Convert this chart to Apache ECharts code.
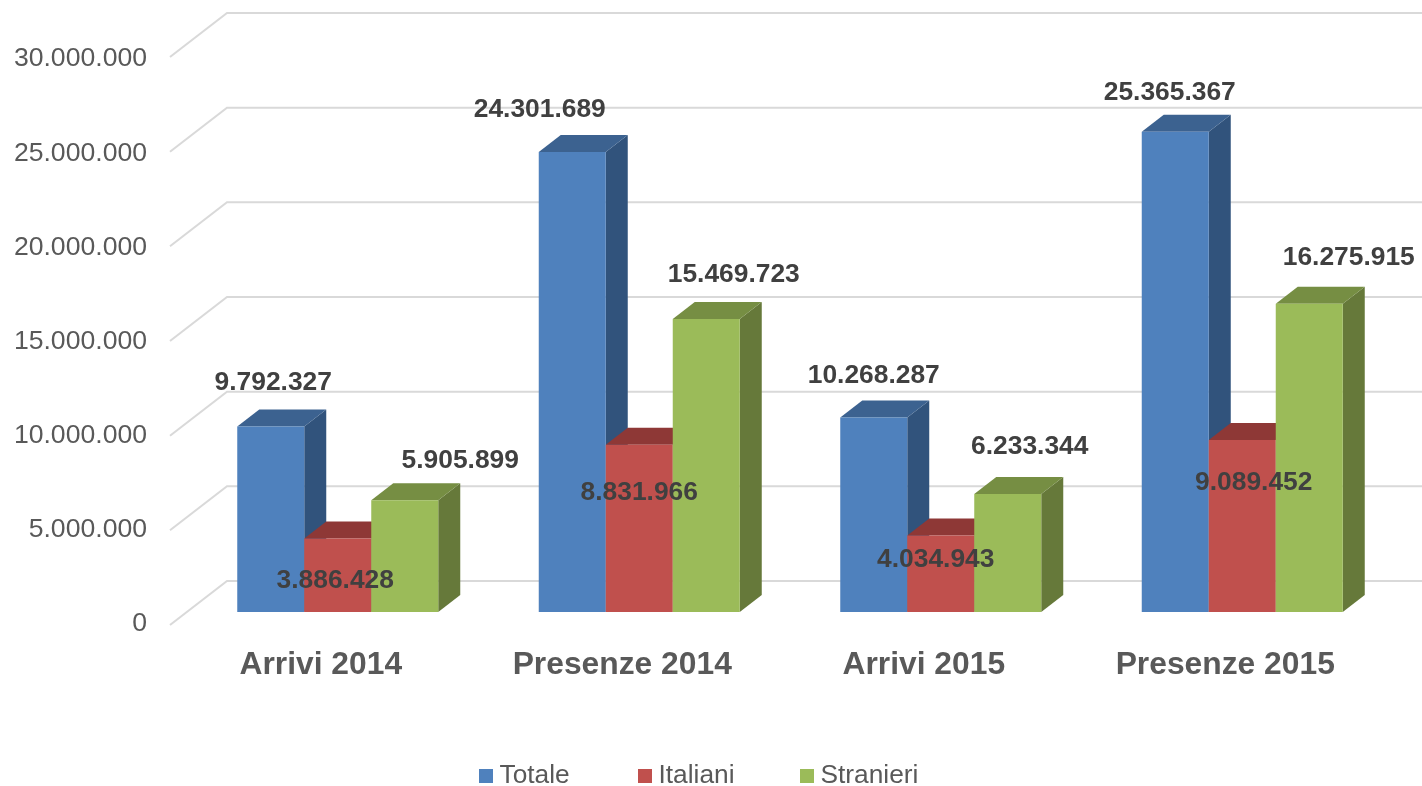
<!DOCTYPE html>
<html>
<head>
<meta charset="utf-8">
<style>html,body{margin:0;padding:0;background:#fff}#c{width:1422px;height:786px}</style>
<script src="https://cdn.jsdelivr.net/npm/echarts@6/dist/echarts.min.js"></script>
</head>
<body>
<div id="c"></div>
<script>
const categories = ['Arrivi 2014', 'Presenze 2014', 'Arrivi 2015', 'Presenze 2015'];
const totale = [9792327, 24301689, 10268287, 25365367];
const italiani = [3886428, 8831966, 4034943, 9089452];
const stranieri = [5905899, 15469723, 6233344, 16275915];
const yTicks = [0, 5000000, 10000000, 15000000, 20000000, 25000000, 30000000];

// Layout: hand-placed label offsets from the top-centre of each bar's front face
const labelShiftTotale = [[2.5, -44], [-32.5, -42], [0, -42], [-5.5, -39]];
const labelShiftItaliani = [[-2.5, 42], [0, 48], [-5, 24], [11.5, 43]];
const labelShiftStranieri = [[55.5, -39], [27.5, -44], [22, -47], [39.5, -46]];

const FONT = '"Liberation Sans", Arial, sans-serif';
const fmt = v => String(v).replace(/\B(?=(\d{3})+$)/g, '.');
const BAR_W = 67, DEPTH_X = 22, DEPTH_Y = 17, FRONT_DX = 17, FRONT_DY = -13, BACK_DX = 57, BACK_DY = -44;

const palettes = [
  { front: '#4F81BD', top: '#3C6290', side: '#31537C' },
  { front: '#C0504D', top: '#8E3836', side: '#8E3836' },
  { front: '#9BBB59', top: '#768E43', side: '#66793A' }
];

function barSeries(name, values, slot) {
  const pal = palettes[slot];
  return {
    name, type: 'custom', coordinateSystem: 'cartesian2d', xAxisIndex: 0, yAxisIndex: 0, z: 3,
    clip: false, encode: { x: 0, y: 1 }, itemStyle: { color: pal.front }, silent: true,
    data: values.map((v, i) => [i, v]),
    renderItem(params, api) {
      const top = api.coord([api.value(0), api.value(1)]);
      const base = api.coord([api.value(0), 0]);
      const x0 = top[0] + FRONT_DX + (slot - 1.5) * BAR_W, x1 = x0 + BAR_W;
      const yt = top[1] + FRONT_DY, yb = base[1] + FRONT_DY;
      return { type: 'group', children: [
        { type: 'polygon', shape: { points: [[x1, yt], [x1 + DEPTH_X, yt - DEPTH_Y], [x1 + DEPTH_X, yb - DEPTH_Y], [x1, yb]] }, style: { fill: pal.side } },
        { type: 'polygon', shape: { points: [[x0, yt], [x0 + DEPTH_X, yt - DEPTH_Y], [x1 + DEPTH_X, yt - DEPTH_Y], [x1, yt]] }, style: { fill: pal.top } },
        { type: 'rect', shape: { x: x0, y: yt, width: BAR_W, height: yb - yt }, style: { fill: pal.front } }
      ] };
    }
  };
}

function labelSeries(values, shifts, slot) {
  return {
    type: 'custom', coordinateSystem: 'cartesian2d', xAxisIndex: 0, yAxisIndex: 0, z: 6,
    clip: false, encode: { x: 0, y: 1 }, silent: true,
    data: values.map((v, i) => [i, v]),
    renderItem(params, api) {
      const i = api.value(0), v = api.value(1);
      const top = api.coord([i, v]);
      const s = shifts[i];
      return { type: 'text', style: {
        text: fmt(v), x: top[0] + FRONT_DX + (slot - 1) * BAR_W + s[0], y: top[1] + FRONT_DY + s[1],
        align: 'center', verticalAlign: 'middle', fill: '#404040', font: 'bold 26.4px ' + FONT
      } };
    }
  };
}

const wallSeries = {
  type: 'custom', coordinateSystem: 'cartesian2d', xAxisIndex: 0, yAxisIndex: 0, z: 1,
  clip: false, encode: { x: 0, y: 1 }, silent: true,
  data: yTicks.map(v => [0, v]),
  renderItem(params, api) {
    const p = api.coord([0, api.value(1)]);
    const x = params.coordSys.x;
    return { type: 'polyline', shape: { points: [[x, p[1]], [x + BACK_DX, p[1] + BACK_DY], [api.getWidth(), p[1] + BACK_DY]] },
      style: { stroke: '#D9D9D9', lineWidth: 2, fill: null } };
  }
};

const legendItem = (name, left) => ({
  left, top: 758, icon: 'rect', itemWidth: 14, itemHeight: 14, selectedMode: false, data: [name],
  textStyle: { fontFamily: FONT, fontSize: 26.3, color: '#595959', padding: [0, 0, 0, 1.5] }
});

const chart = echarts.init(document.getElementById('c'));
chart.setOption({
  backgroundColor: '#ffffff',
  animation: false,
  legend: [legendItem('Totale', 474), legendItem('Italiani', 633), legendItem('Stranieri', 795)],
  grid: [
    { left: 170, top: 57, width: 1206, height: 568 },
    { left: 170, top: 59, width: 1206, height: 565 }
  ],
  xAxis: [
    { type: 'category', gridIndex: 0, data: categories, axisLine: { show: false }, axisTick: { show: false },
      axisLabel: { margin: 24, fontFamily: FONT, fontSize: 31.8, fontWeight: 'bold', color: '#595959' } },
    { type: 'category', gridIndex: 1, data: categories, show: false }
  ],
  yAxis: [
    { type: 'value', gridIndex: 0, min: 0, max: 30000000, interval: 5000000, show: false },
    { type: 'value', gridIndex: 1, min: 0, max: 30000000, interval: 5000000,
      axisLine: { show: false }, axisTick: { show: false }, splitLine: { show: false },
      axisLabel: { margin: 23, formatter: v => fmt(v), fontFamily: FONT, fontSize: 26.6, color: '#595959' } }
  ],
  series: [
    wallSeries,
    barSeries('Totale', totale, 0),
    barSeries('Italiani', italiani, 1),
    barSeries('Stranieri', stranieri, 2),
    labelSeries(totale, labelShiftTotale, 0),
    labelSeries(italiani, labelShiftItaliani, 1),
    labelSeries(stranieri, labelShiftStranieri, 2)
  ]
});
</script>
</body>
</html>
